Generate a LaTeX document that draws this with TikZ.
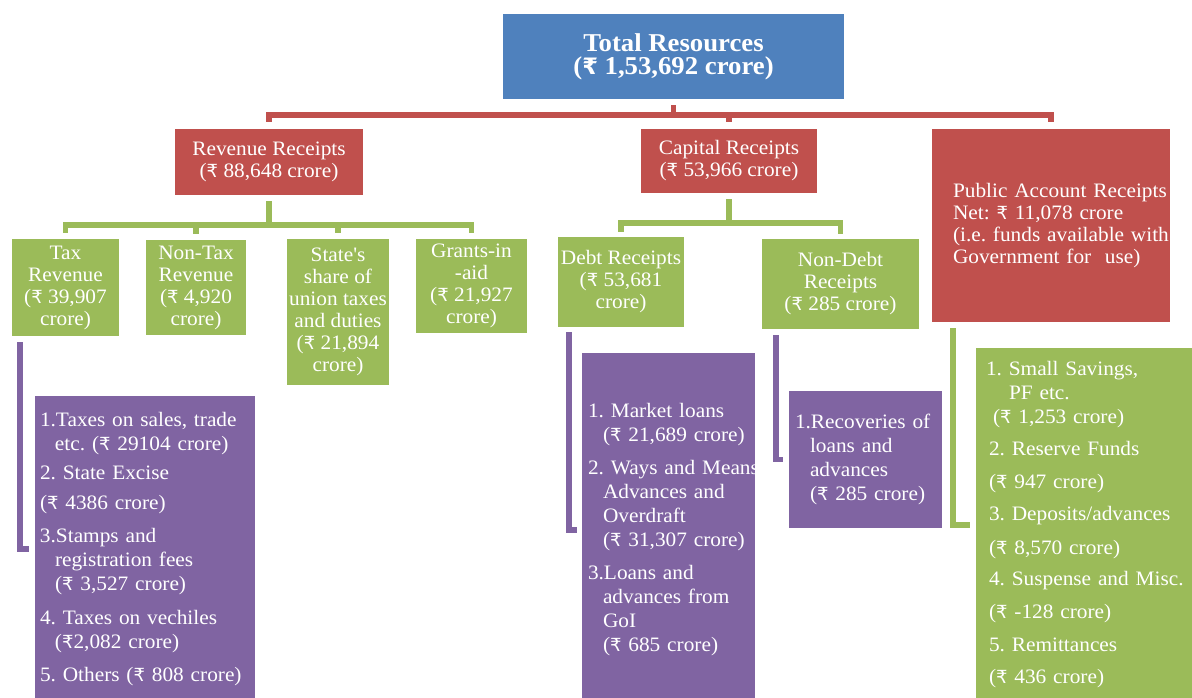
\documentclass[tikz,border=0pt]{standalone}
\usepackage{fontspec}
\setmainfont{Liberation Serif}[FakeStretch=1.04]
\newfontfamily\rsfont{DejaVu Sans}[Scale=0.88]
\newcommand\rs{{\rsfont ₹}}
\usetikzlibrary{positioning,calc}
\definecolor{blu}{HTML}{4F81BD}
\definecolor{rd}{HTML}{C0504D}
\definecolor{grn}{HTML}{9BBB59}
\definecolor{prp}{HTML}{8064A2}
\frenchspacing
\hyphenpenalty=10000
\exhyphenpenalty=10000
\tikzset{
  bbox/.style={rectangle,fill=#1,text=white,inner sep=0pt,align=center},
  hbox/.style={bbox=#1,font=\fontsize{20.5}{22}\selectfont},
  lbox/.style={bbox=#1,align=left,font=\fontsize{20.5}{24}\selectfont},
  rc/.style={draw=rd,line width=5.5pt},
  gc/.style={draw=grn,line width=5.5pt},
  pc/.style={draw=prp,line width=5.5pt}
}

\begin{document}
\begin{tikzpicture}[x=1pt,y=-1pt]
\useasboundingbox (0,0) rectangle (1192,698);
\clip (0,0) rectangle (1192,698);
% top level
\node[bbox=blu,minimum width=341pt,minimum height=85pt,font=\bfseries\fontsize{25.7}{23}\selectfont] (total) at (673.5,56.5) {Total Resources\\(\rs{} 1,53,692 crore)};
\node[hbox=rd,minimum width=188pt,minimum height=66pt] (rev) at (269,162) {Revenue Receipts\\(\rs{} 88,648 crore)};
\node[hbox=rd,minimum width=176pt,minimum height=64pt] (cap) at (729,161) {Capital Receipts\\(\rs{} 53,966 crore)};
\node[hbox=rd,minimum width=238pt,minimum height=193pt,align=left,text width=196pt,inner xsep=21pt] (pub) at (1051,225.5)
  {Public~Account~Receipts\\Net: \rs{} 11,078 crore\\(i.e.~funds~available~with\\Government~for~~use)};
% second level
\node[hbox=grn,minimum width=107pt,minimum height=97pt] (tax) at (65.5,287.5) {Tax\\Revenue\\(\rs{} 39,907\\crore)};
\node[hbox=grn,minimum width=100pt,minimum height=95pt] (nontax) at (196,287.5) {Non-Tax\\Revenue\\(\rs{} 4,920\\crore)};
\node[hbox=grn,minimum width=102pt,minimum height=146pt] (share) at (338,312) {State\textquotesingle s\\share of\\union~taxes\\and duties\\(\rs{} 21,894\\crore)};
\node[hbox=grn,minimum width=111pt,minimum height=94pt] (grants) at (471.5,286) {Grants-in\\-aid\\(\rs{} 21,927\\crore)};
\node[hbox=grn,minimum width=126pt,minimum height=90pt] (debt) at (621,282) {Debt~Receipts\\(\rs{} 53,681\\crore)};
\node[hbox=grn,minimum width=157pt,minimum height=90pt] (nondebt) at (840.5,284) {Non-Debt\\Receipts\\(\rs{} 285 crore)};
% detail lists
\node[lbox=prp,minimum width=220pt,minimum height=306pt,text width=210pt,inner xsep=5pt] (taxlist) at (145,549)
  {1.Taxes on sales, trade\\
   \hspace*{15pt}etc. (\rs{} 29104 crore)\\[5pt]
   2. State Excise\\[6pt]
   (\rs{} 4386 crore)\\[9pt]
   3.Stamps and\\
   \hspace*{15pt}registration fees\\
   \hspace*{15pt}(\rs{} 3,527 crore)\\[10pt]
   4. Taxes on vechiles\\
   \hspace*{15pt}(\rs{}2,082 crore)\\[9pt]
   5. Others (\rs{} 808 crore)};
\node[lbox=prp,minimum width=173pt,minimum height=354pt,text width=161pt,inner xsep=6pt] (debtlist) at (668.5,530)
  {1. Market loans\\
   \hspace*{15pt}(\rs{} 21,689~crore)\\[9pt]
   2.~Ways~and~Means\\
   \hspace*{15pt}Advances and\\
   \hspace*{15pt}Overdraft\\
   \hspace*{15pt}(\rs{} 31,307~crore)\\[9pt]
   3.Loans and\\
   \hspace*{15pt}advances from\\
   \hspace*{15pt}GoI\\
   \hspace*{15pt}(\rs{} 685 crore)};
\node[lbox=prp,minimum width=153pt,minimum height=137pt,text width=141pt,inner xsep=6pt] (ndlist) at (865.5,459.5)
  {1.Recoveries~of\\
   \hspace*{15pt}loans and\\
   \hspace*{15pt}advances\\
   \hspace*{15pt}(\rs{} 285~crore)};
\node[lbox=grn,minimum width=220pt,minimum height=354pt,text width=200pt,inner xsep=10pt] (publist) at (1086,525)
  {1. Small Savings,\\
   \hspace*{23pt}PF etc.\\
   \hspace*{7pt}(\rs{} 1,253 crore)\\[8pt]
   \hspace*{3pt}2. Reserve Funds\\[9pt]
   \hspace*{3pt}(\rs{} 947 crore)\\[8pt]
   \hspace*{3pt}3. Deposits/advances\\[10pt]
   \hspace*{3pt}(\rs{} 8,570 crore)\\[7pt]
   \hspace*{3pt}4.~Suspense~and~Misc.\\[9pt]
   \hspace*{3pt}(\rs{} -128 crore)\\[9pt]
   \hspace*{3pt}5. Remittances\\[8pt]
   \hspace*{3pt}(\rs{} 436 crore)};
% connectors
\foreach \c in {rev,cap,pub}
  \draw[rc] ([yshift=-6pt]total.south) -- ++(0,10) -| ([yshift=7pt]\c.north);
\foreach \c in {tax,nontax,share,grants}
  \draw[gc] ([yshift=-6pt]rev.south) -- ++(0,24) -| ([yshift=6pt]\c.north);
\foreach \c in {debt,nondebt}
  \draw[gc] ([yshift=-6pt]cap.south) -- ++(0,24) -| ([yshift=5pt]\c.north);
\draw[pc] ([xshift=8pt,yshift=-6pt]tax.south west) |- ([xshift=-6pt]taxlist.west);
\draw[pc] ([xshift=11pt,yshift=-5pt]debt.south west) |- ([xshift=-5pt]debtlist.west);
\draw[pc] ([xshift=14pt,yshift=-6pt]nondebt.south west) |- ([xshift=-6pt]ndlist.west);
\draw[gc] ([xshift=21pt,yshift=-6pt]pub.south west) |- ([xshift=-6pt]publist.west);
\end{tikzpicture}
\end{document}
